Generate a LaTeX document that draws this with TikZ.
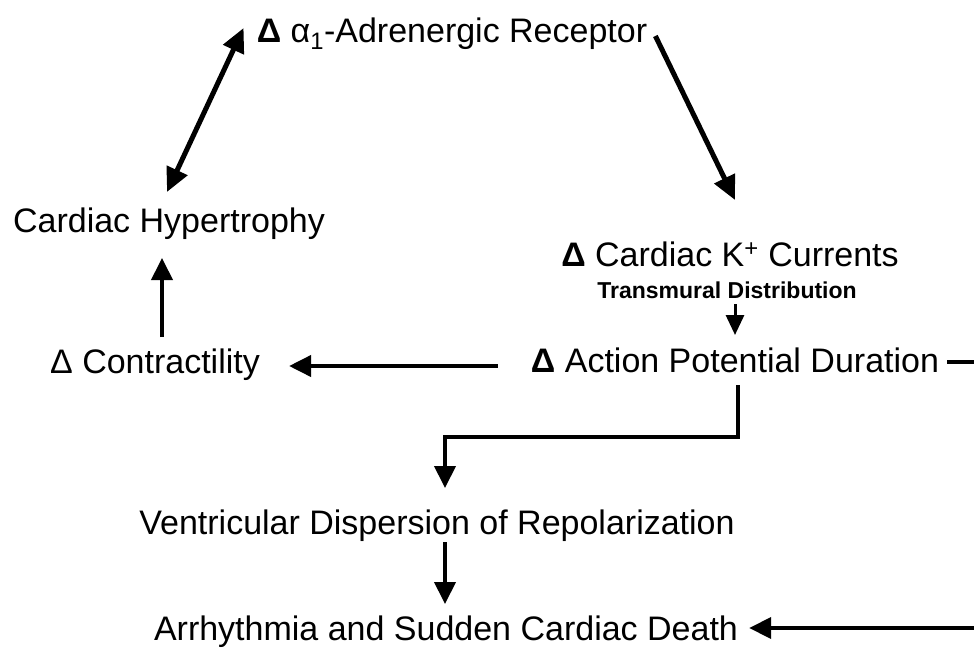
\documentclass[tikz,border=0pt]{standalone}
\usepackage{fontspec}
\setmainfont{Liberation Sans}
\usetikzlibrary{arrows.meta,calc}
\begin{document}
\begin{tikzpicture}[x=1pt,y=-1pt,
  lbl/.style={anchor=base,inner sep=0pt,font=\fontsize{34}{40}\selectfont},
  sublbl/.style={anchor=base,inner sep=0pt,font=\fontsize{23}{28}\selectfont\bfseries},
  conn/.style={line width=4pt,-{Triangle[length=22pt,width=21pt]}},
  thick conn/.style={line width=5pt,-{Triangle[length=24pt,width=22pt]}},
  dbl conn/.style={line width=5pt,{Triangle[length=24pt,width=22pt]}-{Triangle[length=24pt,width=22pt]}},
  thin conn/.style={line width=3pt,-{Triangle[length=20pt,width=18pt]}},
  plain conn/.style={line width=4pt}]
\useasboundingbox (0,0) rectangle (974,667);
\fill[white] (0,0) rectangle (974,667);

\node[lbl] (adr) at (452,42) {\textbf{Δ} α\textsubscript{1}-Adrenergic Receptor};
\node[lbl] (hyp) at (169,232) {Cardiac Hypertrophy};
\node[lbl] (kcur) at (730,266) {\textbf{Δ} Cardiac K\textsuperscript{+} Currents};
\node[sublbl] (trans) at (727,298) {Transmural Distribution};
\node[lbl] (apd) at (735,372) {\textbf{Δ} Action Potential Duration};
\node[lbl] (con) at (155,373) {Δ Contractility};
\node[lbl] (ven) at (437,534) {Ventricular Dispersion of Repolarization};
\node[lbl] (arr) at (446,640) {Arrhythmia and Sudden Cardiac Death};

\coordinate (edgeA) at (974,362);
\coordinate (edgeB) at (974,628);

\draw[dbl conn] ($(adr.base west)+(-13,-14)$) -- ($(hyp.base)+(-2,-40)$);
\draw[thick conn] ($(adr.base east)+(8,-6)$) -- ($(kcur.base)+(5,-66)$);
\draw[thin conn] ($(trans.base)+(8,6)$) -- ($(apd.base)+(0,-37)$);
\draw[conn] ($(apd.base west)+(-33,-6)$) -- ($(con.base east)+(29,-7)$);
\draw[conn] ($(con.base)+(7,-36)$) -- ($(hyp.base)+(-7,26)$);
\draw[conn] ($(apd.base)+(3,13)$) |- ($(ven.base)+(8,-97)$) -- ($(ven.base)+(8,-46)$);
\draw[conn] ($(ven.base)+(8,8)$) -- ($(arr.base)+(-1,-36)$);
\draw[plain conn] ($(apd.base east)+(8,-10)$) -- (edgeA);
\draw[conn] (edgeB) -- ($(arr.base east)+(11,-12)$);
\end{tikzpicture}
\end{document}
